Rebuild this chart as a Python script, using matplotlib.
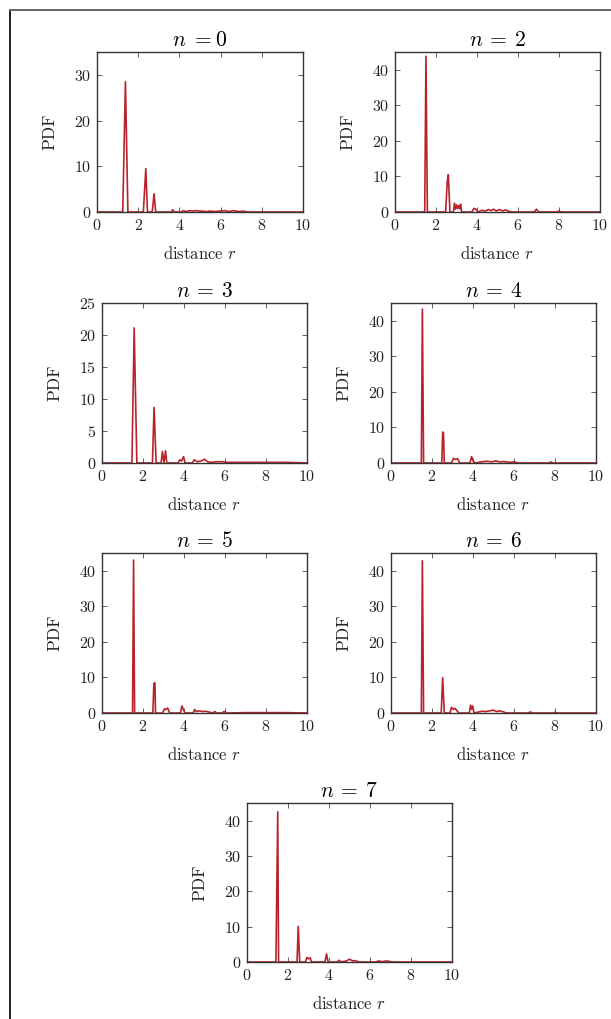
import matplotlib
matplotlib.use("Agg")
import matplotlib.pyplot as plt
from matplotlib.lines import Line2D

plt.rcParams.update({
    'font.family': 'serif',
    'font.serif': ['cmr10', 'DejaVu Serif'],
    'mathtext.fontset': 'cm',
    'axes.formatter.use_mathtext': True,
    'axes.unicode_minus': False,
    'font.size': 10,
})

# ---- data: PDF of pair distance r, one curve per n ----
r_n0 = [0, 1.25, 1.38, 1.5, 2.25, 2.37, 2.45, 2.68, 2.77, 2.85, 3.6, 3.68, 3.75,
        4.1, 4.2, 4.3, 4.5, 4.65, 4.8, 5.3, 5.5, 5.7, 6.0, 6.2, 6.4, 6.6, 6.9, 7.1, 7.3, 10]
pdf_n0 = [0, 0, 28.5, 0, 0, 9.5, 0, 0, 4.0, 0, 0, 0.5, 0,
          0, 0.3, 0.1, 0.3, 0.2, 0.3, 0.1, 0.2, 0.1, 0.2, 0.3, 0.1, 0.3, 0.1, 0.2, 0, 0]

r_n2 = [0, 1.45, 1.51, 1.58, 2.47, 2.55, 2.6, 2.68, 2.85, 2.9, 2.95, 3.0, 3.05,
        3.1, 3.15, 3.2, 3.25, 3.75, 3.85, 3.95, 4.05, 4.25, 4.4, 4.55, 4.7, 4.8,
        4.95, 5.1, 5.25, 5.4, 5.55, 5.7, 6.8, 6.9, 7.0, 7.9, 8.0, 8.1, 10]
pdf_n2 = [0, 0, 43.8, 0, 0, 8.7, 10.5, 0, 0, 2.5, 0.8, 2.0, 1.0,
          1.8, 0.9, 2.2, 0, 0, 1.0, 0.8, 0, 0.5, 0.2, 0.7, 0.4, 0.8,
          0.3, 0.7, 0.3, 0.6, 0.2, 0, 0, 0.8, 0, 0, 0.3, 0, 0]

r_n3 = [0, 1.46, 1.57, 1.7, 2.46, 2.54, 2.64, 2.88, 2.95, 3.02, 3.1, 3.16, 3.7,
        3.8, 3.88, 3.98, 4.05, 4.4, 4.5, 4.65, 4.8, 4.9, 5.0, 5.15, 5.3, 5.6,
        5.9, 6.1, 7.0, 7.5, 8.0, 9.0, 10]
pdf_n3 = [0, 0, 21.1, 0, 0, 8.7, 0, 0, 1.8, 0, 1.9, 0, 0,
          0.5, 0.3, 1.0, 0, 0, 0.5, 0.2, 0.3, 0.4, 0.6, 0.2, 0.1, 0.2,
          0.2, 0.1, 0.1, 0.1, 0.1, 0.1, 0]

r_n4 = [0, 1.48, 1.53, 1.59, 2.48, 2.52, 2.56, 2.6, 2.95, 3.05, 3.15, 3.25, 3.35,
        3.85, 3.93, 4.0, 4.1, 4.5, 4.7, 4.9, 5.1, 5.3, 5.5, 5.8, 6.0, 6.2,
        7.7, 7.8, 7.9, 10]
pdf_n4 = [0, 0, 43.3, 0, 0, 8.7, 8.5, 0, 0, 1.3, 1.0, 1.2, 0,
          0, 1.8, 0.6, 0, 0.4, 0.5, 0.3, 0.6, 0.3, 0.4, 0.2, 0.3, 0,
          0, 0.3, 0, 0]

r_n5 = [0, 1.49, 1.54, 1.59, 2.48, 2.53, 2.58, 2.61, 2.95, 3.05, 3.12, 3.2, 3.3,
        3.82, 3.9, 3.98, 4.05, 4.45, 4.52, 4.6, 4.75, 4.9, 5.05, 5.4, 5.5, 5.6,
        5.85, 5.95, 6.1, 7.0, 8.0, 9.0, 10]
pdf_n5 = [0, 0, 43.0, 0, 0, 8.3, 8.5, 0, 0, 1.2, 1.0, 1.4, 0,
          0, 2.0, 0.8, 0, 0, 1.0, 0.4, 0.6, 0.4, 0.5, 0, 0.4, 0,
          0, 0.4, 0, 0.1, 0.1, 0.1, 0]

r_n6 = [0, 1.48, 1.53, 1.59, 2.45, 2.52, 2.6, 2.88, 2.95, 3.05, 3.12, 3.2, 3.3,
        3.82, 3.88, 3.93, 3.98, 4.05, 4.45, 4.6, 4.8, 5.0, 5.15, 5.3, 5.5, 5.6,
        6.7, 6.8, 6.9, 7.9, 8.0, 8.1, 10]
pdf_n6 = [0, 0, 42.8, 0, 0, 9.9, 0, 0, 1.6, 1.0, 1.3, 0.8, 0,
          0, 2.2, 1.0, 2.0, 0, 0.5, 0.4, 0.6, 0.8, 0.4, 0.6, 0.3, 0,
          0, 0.3, 0, 0, 0.2, 0, 0]

r_n7 = [0, 1.41, 1.5, 1.54, 2.44, 2.5, 2.57, 2.85, 2.92, 3.0, 3.08, 3.15, 3.8,
        3.88, 3.95, 4.4, 4.5, 4.6, 4.85, 5.0, 5.15, 5.3, 5.45, 6.3, 6.4, 6.6,
        6.8, 7.0, 7.1, 10]
pdf_n7 = [0, 0, 42.5, 0, 0, 10.1, 0, 0, 1.3, 0.9, 1.2, 0, 0,
          2.3, 0, 0, 0.5, 0, 0.3, 0.8, 0.3, 0.4, 0, 0, 0.3, 0.1,
          0.3, 0.1, 0, 0]

titles = [r'$n\ {=}0$', r'$n\:=\:2$', r'$n\:=\:3$', r'$n\:=\:4$',
          r'$n\:=\:5$', r'$n\:=\:6$', r'$n\:=\:7$']
r_all = [r_n0, r_n2, r_n3, r_n4, r_n5, r_n6, r_n7]
pdf_all = [pdf_n0, pdf_n2, pdf_n3, pdf_n4, pdf_n5, pdf_n6, pdf_n7]
ymax = [35, 45, 25, 45, 45, 45, 45]
ystep = [10, 10, 5, 10, 10, 10, 10]

# axes boxes in pixels (left, right, top, bottom) of the 611x1019 canvas
W, H = 611, 1019
boxes = [(97, 303, 52, 212), (395, 600, 52, 212),
         (102, 307, 303, 463), (391, 596, 303, 463),
         (102, 307, 553, 713), (391, 596, 553, 713),
         (247, 452, 803, 962)]

fig = plt.figure(figsize=(W / 100, H / 100), dpi=100)

for (x0, x1, y0, y1), r, pdf, title, ym, ys in zip(boxes, r_all, pdf_all, titles, ymax, ystep):
    ax = fig.add_axes([x0 / W, 1 - y1 / H, (x1 - x0) / W, (y1 - y0) / H])
    ax.plot(r, pdf, color='#b8232b', lw=1.2)
    ax.set_xlim(0, 10)
    ax.set_ylim(0, ym)
    ax.set_xticks(range(0, 11, 2))
    ax.set_yticks(range(0, ym + 1, ys))
    ax.tick_params(direction='in', top=True, right=True, length=3.5, width=0.6,
                   labelsize=11.5, colors='#444444', labelcolor='#222222', pad=4)
    for s in ax.spines.values():
        s.set_linewidth(1.0)
        s.set_color('#333333')
    ax.set_xlabel('distance $r$', fontsize=12, labelpad=9, color='#222222')
    ax.set_ylabel('PDF', fontsize=12.5, labelpad=12, color='#222222')
    ax.set_title(title, fontsize=15.5, pad=4)

# thin frame lines on the top and left edges, as in the scanned page
fig.add_artist(Line2D([10 / W, 10 / W], [0, 1 - 10 / H], color='#222222', lw=1.4))
fig.add_artist(Line2D([10 / W, 1], [1 - 10 / H, 1 - 10 / H], color='#666666', lw=1.4))

fig.savefig('out.png', dpi=100)
